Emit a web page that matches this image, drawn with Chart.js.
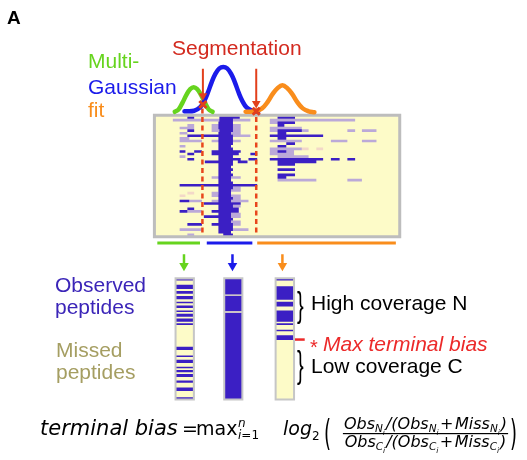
<!DOCTYPE html>
<html><head><meta charset="utf-8">
<script src="https://cdn.jsdelivr.net/npm/chart.js@4/dist/chart.umd.min.js"></script>
<style>html,body{margin:0;padding:0;background:#fff}#wrap{width:527px;height:460px}</style>
</head><body><div id="wrap"><canvas id="c" width="527" height="460"></canvas></div>
<script>
const W = 527, H = 460;

// ---- Multi-Gaussian fit curves [x, y]
const fitGreen  = [[172,107.5],[176,105],[180,98],[184,90],[188,84],[191.5,82],[195,84],[199,90],[203,98],[207,105],[211,107.5]];
const fitBlue   = [[182,107],[192,106.5],[198,103],[202,97],[206,88],[210,77],[214,68],[218,62.5],[222,61],[226,62.5],[230,68],[234,77],[238,88],[242,97],[246,103],[251,106],[258,107.5]];
const fitOrange = [[245,107.5],[255,107],[262,104],[268,97],[273,89],[278,83],[283,80],[288,83],[293,89],[298,97],[304,104],[310,107],[316,108]];
const cutPoints = [[201,100],[256,107]];
const cutLines  = [200.5, 256];

// ---- Peptide map rows: [row, start, end]
const heatDark = [
 [0,185,192],[0,218,239],[0,278,296],[1,218,232],[2,217,232],[2,278,296],[3,217,232],[3,278,285],[4,217,232],
 [5,185,192],[5,218,232],[5,278,303],[6,217,230],[6,278,287],[7,185,232],[7,270,325],[8,217,232],[8,278,287],
 [9,217,232],[10,217,232],[10,287,296],[11,217,230],[11,278,287],[12,217,232],
 [13,177,183],[13,192,200],[13,210,240],[13,278,287],[14,185,192],[14,210,238],[14,250,257],[15,217,232],
 [16,185,192],[16,217,240],[16,248,257],[16,270,325],[16,333,342],[16,350,358],
 [17,203,232],[17,237,247],[17,278,318],[18,217,232],[18,278,296],[19,217,230],[20,217,232],[20,278,296],
 [21,217,230],[22,217,232],[22,278,296],[23,217,230],[23,278,287],[24,217,230],[25,217,232],[26,177,257],
 [27,217,232],[28,217,230],[29,217,230],[30,217,230],[31,217,232],[32,177,187],[32,217,230],[33,202,240],
 [34,217,232],[35,185,192],[35,217,238],[36,177,185],[36,210,238],[37,217,230],[38,202,230],[39,217,232],
 [40,217,230],[41,185,200],[41,210,232],[42,217,232],[43,217,232],[44,217,230],[45,222,232]
];
const heatLight = [
 [1,170,250],[1,270,358],[2,270,295],[3,185,192],[3,210,240],[4,177,192],[4,210,240],[4,270,303],
 [5,210,240],[5,270,310],[5,350,358],[5,365,380],[6,177,185],[6,230,240],[7,232,250],[8,177,187],
 [9,177,200],[9,210,240],[9,270,303],[9,333,350],[9,365,380],[11,177,183],[12,270,303],[13,270,295],
 [14,270,295],[15,177,183],[15,278,310],[23,210,240],[24,278,318],[24,350,365],[27,222,240],[28,230,240],
 [29,210,217],[30,210,240],[31,232,240],[32,187,200],[32,210,248],[34,232,240],[36,185,200],[37,230,240],
 [38,230,240],[40,230,240],[41,232,240],[43,177,200],[43,232,248],[45,185,192]
];
const heatPink = [[12,303,310],[12,318,325],[29,185,192],[30,177,183]];

// ---- segment groups below the map
const groupBars = [[154,198],[205,252],[257,400]];
const groupArrowX = [181.5, 231.5, 283];

// ---- per-segment coverage columns: stripes [top, bottom]
const colX = [[172.8,191.7],[223,241.7],[276,295]];
const colGreenStripes = [[281,282.3],[286.7,291],[293.3,296],[298.3,301.7],[304.3,306],[308.3,310.7],[313.3,315],[316.7,320],[321.7,325],[326.7,328.3],
  [351,354.3],[360,361.7],[364.3,367.7],[371.7,373.3],[375,377.3],[379.3,382.3],[386,388.3],[393.3,396.7],[403.3,405]];
const colBlueStripes = [[280.5,296.7],[298,314.3],[315.7,405.5]];
const colOrangeStripes = [[280.7,282.3],[288.3,302.3],[304.3,309.3],[313.3,325],[326.7,328.3],[333.3,335],[339,344]];

const GREEN = '#66d41e', BLUE = '#1b1bea', ORANGE = '#f98d1c', RED = '#e2401c';
const DARK = '#3b1fc4', LIGHT = '#bba9d8', PINK = '#f3d8c8', YEL = '#fdfbc8', GRAY = '#bdbdbd';

const ds = [];
const pts = a => a.map(p => ({x:p[0], y:p[1]}));
function line(data, o) {
  ds.push(Object.assign({data, pointRadius:0, borderWidth:2, fill:false, tension:0, showLine:true, order:10}, o));
}
function rows(list, color, order) {
  const d = [];
  list.forEach(r => { d.push({x:r[1], y:r[0]}, {x:r[2], y:r[0]}, {x:r[2], y:null}); });
  line(d, {yAxisID:'yRow', borderColor:color, borderWidth:2.6, order, spanGaps:false});
}
function rect(x0, x1, y0, y1, color, order) {
  line([{x:x0,y:y0},{x:x1,y:y0}], {borderWidth:0, borderColor:color, backgroundColor:color, fill:{value:y1}, order});
}
function frame(x0, x1, y0, y1, color, w, order) {
  line(pts([[x0,y0],[x1,y0],[x1,y1],[x0,y1],[x0,y0]]), {borderColor:color, borderWidth:w, borderJoinStyle:'miter', borderCapStyle:'square', order});
}

// map box
rect(151, 404, 111, 237, YEL, 100);
rows(heatPink, PINK, 62);
rows(heatLight, LIGHT, 60);
rows(heatDark, DARK, 50);
frame(151, 404, 111, 237, GRAY, 3, 40);
cutLines.forEach(x => line(pts([[x,104],[x,236]]), {borderColor:'#e8461c', borderWidth:2.5, borderDash:[5,3.5], order:30}));

// fit curves
line(pts(fitGreen),  {borderColor:GREEN,  borderWidth:4.5, tension:0.4, order:22, borderCapStyle:'round'});
line(pts(fitBlue),   {borderColor:BLUE,   borderWidth:4.5, tension:0.4, order:21, borderCapStyle:'round'});
line(pts(fitOrange), {borderColor:ORANGE, borderWidth:4.5, tension:0.4, order:20, borderCapStyle:'round'});
ds.push({data:pts(cutPoints), showLine:false, pointStyle:'crossRot', pointRadius:5, pointBorderWidth:3, pointBorderColor:RED, pointBackgroundColor:RED, order:5});

// segmentation arrows
[[201,96],[256,104]].forEach(a => line(pts([[a[0],63],[a[0],a[1]-6]]), {borderColor:RED, borderWidth:2, order:6}));
ds.push({data:pts([[201,91],[256,99]]), showLine:false, pointStyle:'triangle', rotation:180, pointRadius:5, pointBorderWidth:0, pointBackgroundColor:RED, order:6});

// group bars + arrows
const gcol = [GREEN, BLUE, ORANGE];
groupBars.forEach((b,i) => line(pts([[b[0],243.5],[b[1],243.5]]), {borderColor:gcol[i], borderWidth:3, order:10}));
groupArrowX.forEach((x,i) => {
  line(pts([[x,255],[x,266]]), {borderColor:gcol[i], borderWidth:2.5, order:10});
  ds.push({data:[{x, y:267}], showLine:false, pointStyle:'triangle', rotation:180, pointRadius:5.5, pointBorderWidth:0, pointBackgroundColor:gcol[i], order:9});
});

// coverage columns
[colGreenStripes, colBlueStripes, colOrangeStripes].forEach((st, i) => {
  const [x0, x1] = colX[i];
  rect(x0, x1, 280, 405.5, YEL, 90);
  st.forEach(s => rect(x0, x1, s[0], s[1], DARK, 80));
  frame(x0, x1, 280, 405.5, '#c6c6c6', 2, 70);
});
line(pts([[296,343.5],[306,343.5]]), {borderColor:'#ec2a2a', borderWidth:2.5, order:10});

// ---- text
const F = '"DejaVu Sans", Verdana, sans-serif';
const A = '"Liberation Sans", Arial, sans-serif';
function brace(ctx, ch, x, y0, y1, color, font) {
  ctx.save();
  ctx.font = font;
  const m = ctx.measureText(ch);
  const a = m.actualBoundingBoxAscent, d = m.actualBoundingBoxDescent;
  const s = (y1 - y0) / (a + d);
  ctx.translate(x, y0 + a * s);
  ctx.scale(1, s);
  ctx.fillStyle = color; ctx.textBaseline = 'alphabetic';
  ctx.fillText(ch, 0, 0);
  ctx.restore();
}
function runs(ctx, list, x, base, draw) {
  for (const r of list) {
    ctx.font = r.f;
    if (draw) ctx.fillText(r.t, x, base + (r.dy || 0));
    x += ctx.measureText(r.t).width + (r.sp || 0);
  }
  return x;
}
const textPlugin = {
  id: 'labels',
  afterDatasetsDraw(chart) {
    const ctx = chart.ctx;
    ctx.save();
    ctx.textBaseline = 'alphabetic'; ctx.textAlign = 'left';
    const t = (s, x, y, font, color) => { ctx.font = font; ctx.fillStyle = color; ctx.fillText(s, x, y); };
    const L = '21px ' + A;
    t('A', 7, 24, 'bold 19px ' + A, '#000');
    t('Segmentation', 172, 55, L, '#d32a1f');
    t('Multi-', 88, 68.3, L, GREEN);
    t('Gaussian', 88, 94.3, L, BLUE);
    t('fit', 88, 117, L, ORANGE);
    t('Observed', 55, 292, L, '#3b25b8');
    t('peptides', 55, 314, L, '#3b25b8');
    t('Missed', 56, 357, L, '#a59e62');
    t('peptides', 56, 379, L, '#a59e62');
    t('High coverage N', 311, 310, L, '#000');
    t('Low coverage C', 311, 372.5, L, '#000');
    t('*', 310, 354, '20px ' + A, '#ec2a2a');
    t('Max terminal bias', 323, 350.5, 'italic 21px ' + A, '#ec2a2a');
    brace(ctx, '}', 297, 291, 324, '#000', '20px ' + A);
    brace(ctx, '}', 297, 349, 384, '#000', '20px ' + A);
    // formula
    t('terminal bias', 40, 435, 'italic 21px ' + F, '#000');
    t('=', 182, 435, '19px ' + F, '#000');
    t('max', 196, 435, '19px ' + F, '#000');
    t('n', 238, 427, 'italic 12px ' + F, '#000');
    ctx.fillStyle = '#000';
    runs(ctx, [{t:'i', f:'italic 12px ' + F}, {t:'=1', f:'12px ' + F}], 238, 439, true);
    t('log', 283, 435, 'italic 19px ' + F, '#000');
    t('2', 312, 440, '12px ' + F, '#000');
    brace(ctx, '(', 324, 418, 449, '#000', '18px ' + F);
    brace(ctx, ')', 510, 418, 449, '#000', '18px ' + F);
    const I = 'italic 16px ' + F, S = 'italic 10.5px ' + F, SS = 'italic 7.5px ' + F, U = '16px ' + F;
    const frac = c => [{t:'Obs',f:I},{t:c,f:S,dy:3},{t:'i',f:SS,dy:6,sp:1},{t:'/(',f:I},{t:'Obs',f:I},{t:c,f:S,dy:3},{t:'i',f:SS,dy:6,sp:1.5},
                       {t:'+',f:U,sp:1.5},{t:'Miss',f:I},{t:c,f:S,dy:3},{t:'i',f:SS,dy:6,sp:1},{t:')',f:I}];
    const cx = 425.5;
    const wn = runs(ctx, frac('N'), 0, 0, false), wd = runs(ctx, frac('C'), 0, 0, false);
    ctx.fillStyle = '#000';
    runs(ctx, frac('N'), cx - wn/2, 429, true);
    runs(ctx, frac('C'), cx - wd/2, 447, true);
    ctx.fillRect(cx - Math.max(wn, wd)/2 - 1, 433, Math.max(wn, wd) + 2, 1.2);
    ctx.restore();
  }
};

new Chart(document.getElementById('c'), {
  type: 'line',
  data: {datasets: ds},
  options: {
    responsive: false, animation: false, events: [],
    layout: {padding: 0},
    plugins: {legend: {display: false}, tooltip: {enabled: false}},
    scales: {
      x: {type: 'linear', min: 0, max: W, display: false},
      y: {type: 'linear', min: 0, max: H, reverse: true, display: false},
      yRow: {type: 'linear', min: -113.5/2.7, max: (H - 113.5)/2.7, reverse: true, display: false}
    }
  },
  plugins: [textPlugin]
});
</script></body></html>
